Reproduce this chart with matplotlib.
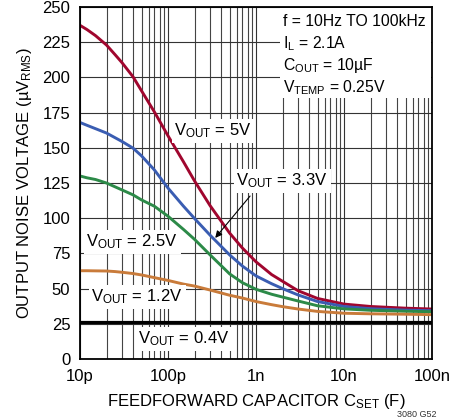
import matplotlib
matplotlib.use('Agg')
import matplotlib.pyplot as plt
import matplotlib.ticker as mticker
from matplotlib.patches import Rectangle

plt.rcParams['font.family'] = ['Liberation Sans Narrow', 'Liberation Sans', 'DejaVu Sans']
plt.rcParams['mathtext.fontset'] = 'custom'
plt.rcParams['mathtext.rm'] = 'Liberation Sans'
plt.rcParams['mathtext.it'] = 'Liberation Sans'
plt.rcParams['font.size'] = 12

# feedforward capacitor (F) and noise readings (uVrms)
cset = [10e-12, 12e-12, 15e-12, 20e-12, 25e-12, 30e-12, 40e-12, 50e-12,
        70e-12, 100e-12, 150e-12, 200e-12, 300e-12, 500e-12, 700e-12, 1e-9,
        1.5e-9, 2e-9, 3e-9, 5e-9, 10e-9, 20e-9, 50e-9, 100e-9]
vout_5 = [237, 234, 229.7, 223, 216.2, 210.5, 200.5, 190.5, 175.5, 158.5,
          140, 126.5, 109, 89.5, 78.8, 69, 60, 55.2, 48.5, 43, 39, 37.3,
          36.1, 35.5]
vout_33 = [168, 166, 163.6, 160.5, 157.2, 154.5, 149.8, 144.3, 134.3, 121.4,
           108.5, 99.8, 88, 74, 66, 59, 53.5, 50, 45.5, 40.8, 37.3, 35.7,
           34.7, 34.3]
vout_25 = [130, 128.7, 127.5, 125, 122.3, 120.1, 116.6, 113, 108.5, 101.4,
           92, 85, 74, 60.5, 54.2, 49.5, 46, 44, 41.2, 37.8, 35.6, 34.6,
           33.9, 33.6]
vout_12 = [62.7, 62.7, 62.6, 62.5, 62.1, 61.6, 60.7, 59.7, 57.8, 55.8, 53.2,
           51.8, 49, 45.3, 43.3, 40.8, 38.6, 37.2, 35.5, 33.8, 32.5, 32.1,
           31.8, 31.5]
cset_04 = [10e-12, 100e-9]
vout_04 = [26, 26]

xticks = [10e-12, 100e-12, 1e-9, 10e-9, 100e-9]
xtick_labels = ['10p', '100p', '1n', '10n', '100n']
yticks = [0, 25, 50, 75, 100, 125, 150, 175, 200, 225, 250]

fig = plt.figure(figsize=(4.52, 4.19), dpi=100)
ax = fig.add_axes([0.177, 0.1432, 0.779, 0.840])

ax.set_xscale('log')
ax.set_xlim(10e-12, 100e-9)
ax.set_ylim(0, 250)
ax.set_xticks(xticks)
ax.set_xticklabels(xtick_labels)
ax.xaxis.set_minor_locator(mticker.LogLocator(base=10, subs=range(2, 10)))
ax.xaxis.set_minor_formatter(mticker.NullFormatter())
ax.set_yticks(yticks)
ax.tick_params(which='both', length=0, pad=7, labelsize=12)

ax.grid(which='major', axis='both', color='#333333', lw=0.8)
ax.grid(which='minor', axis='x', color='#444444', lw=0.8)
ax.set_axisbelow(True)
for s in ax.spines.values():
    s.set_linewidth(1.3)
    s.set_color('black')

ax.plot(cset, vout_5, color='#a0062e', lw=2.1)
ax.plot(cset, vout_33, color='#3a5db2', lw=2.1)
ax.plot(cset, vout_25, color='#2c8a48', lw=2.1)
ax.plot(cset, vout_12, color='#c97b3a', lw=2.1)
ax.plot(cset_04, vout_04, color='black', lw=2.3)

box = dict(facecolor='white', edgecolor='none', pad=2)
ax.text(0.378, 0.648, 'V$_\\mathrm{OUT}$ = 5V', transform=ax.transAxes,
        ha='center', va='center', bbox=box)
ax.text(0.574, 0.506, 'V$_\\mathrm{OUT}$ = 3.3V', transform=ax.transAxes,
        ha='center', va='center', bbox=box)
ax.text(0.148, 0.332, 'V$_\\mathrm{OUT}$ = 2.5V', transform=ax.transAxes,
        ha='center', va='center', bbox=box)
ax.text(0.162, 0.176, 'V$_\\mathrm{OUT}$ = 1.2V', transform=ax.transAxes,
        ha='center', va='center', bbox=box)
ax.text(0.293, 0.057, 'V$_\\mathrm{OUT}$ = 0.4V', transform=ax.transAxes,
        ha='center', va='center', bbox=box)

# arrow from the 3.3V label to its curve
ax.annotate('', xy=(0.384, 0.344), xytext=(0.483, 0.463),
            xycoords='axes fraction', textcoords='axes fraction',
            arrowprops=dict(arrowstyle='-|>', color='black', lw=0.8,
                            mutation_scale=10, shrinkA=0, shrinkB=0))

# conditions block, top right
ax.add_patch(Rectangle((0.568, 0.742), 0.428, 0.256, transform=ax.transAxes,
                       facecolor='white', edgecolor='none', zorder=2))
cond = ['f = 10Hz TO 100kHz', 'I$_\\mathrm{L}$ = 2.1A',
        'C$_\\mathrm{OUT}$ = 10µF', 'V$_\\mathrm{TEMP}$ = 0.25V']
for i, line in enumerate(cond):
    ax.text(0.577, 0.946 - i * 0.0625, line, transform=ax.transAxes,
            ha='left', va='baseline', fontsize=11.3, zorder=3)

ax.set_ylabel('OUTPUT NOISE VOLTAGE (µV$_\\mathrm{RMS}$)', fontsize=12, labelpad=6)
ax.set_xlabel('FEEDFORWARD CAPACITOR C$_\\mathrm{SET}$ (F)', fontsize=12, labelpad=6)

fig.text(0.965, 0.001, '3080 G52', fontsize=6.5, ha='right', va='bottom', color='#333333')

fig.savefig('out.png', dpi=100)
